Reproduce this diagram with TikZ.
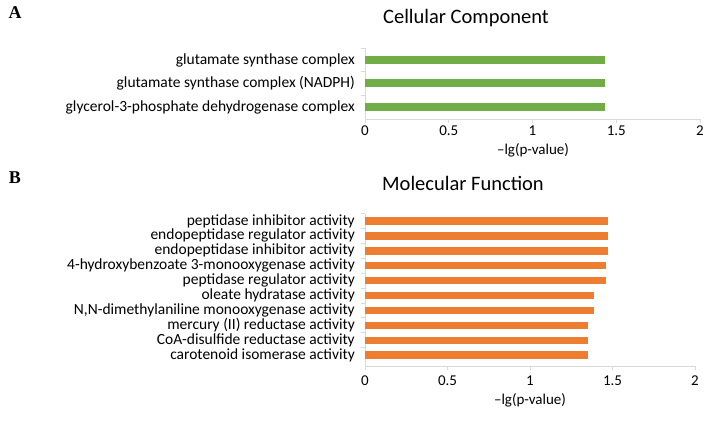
\documentclass[tikz,border=0pt]{standalone}
\usepackage{fontspec}
\setmainfont{Carlito}
\newfontfamily\tnr{Liberation Serif}
\definecolor{gbar}{HTML}{70AD47}
\definecolor{obar}{HTML}{ED7D31}
\definecolor{axc}{HTML}{D9D9D9}
\begin{document}
\begin{tikzpicture}[x=1pt,y=-1pt,
  lab/.style={anchor=east,inner sep=0pt,font=\fontsize{15.5}{15.5}\selectfont},
  tick/.style={anchor=center,inner sep=0pt,font=\fontsize{15}{15}\selectfont},
  ttl/.style={anchor=center,inner sep=0pt,font=\fontsize{20.5}{20.5}\selectfont},
  letter/.style={anchor=center,inner sep=0pt,font=\tnr\bfseries\fontsize{18}{18}\selectfont},
  axisline/.style={draw=axc,line width=0.8pt}]
\useasboundingbox (0,0) rectangle (707,437);
\node[letter] (LA) at (15,13) {A};
\node[letter] (LB) at (15,178) {B};
\node[ttl] (TA) at (466,18) {Cellular Component};
\node[ttl] (TB) at (463,183) {Molecular Function};
% Panel A
\def\ax{365}\def\au{167.5}
\coordinate (a0) at (\ax,48);
\coordinate (a1) at (\ax,119);
\coordinate (a2) at (700,119);
\draw[axisline] (a0) -- (a1) -- (a2);
\foreach \y in {48,71.5,95}{\draw[axisline] (\ax-4,\y) -- (\ax,\y);}
\foreach \v/\t in {0/0,0.5/0.5,1/1,1.5/1.5,2/2}{
  \draw[axisline] (\ax+\v*\au,119) -- (\ax+\v*\au,123);
  \node[tick] (ta\v) at (\ax+\v*\au,131) {\t};}
\node[tick] (xa) at (533,150) {\textendash lg(p-value)};
\foreach \y/\v/\t [count=\i] in {60/1.43/glutamate synthase complex,83/1.43/glutamate synthase complex (NADPH),107/1.43/glycerol-3-phosphate dehydrogenase complex}{
  \fill[gbar] (\ax,\y-4) rectangle (\ax+\v*\au,\y+4);
  \node[lab] (la\i) at (355,\y) {\t};}
% Panel B
\def\bu{165}
\coordinate (b0) at (\ax,214);
\coordinate (b1) at (\ax,366);
\coordinate (b2) at (695,366);
\draw[axisline] (b0) -- (b1) -- (b2);
\foreach \v/\t in {0/0,0.5/0.5,1/1,1.5/1.5,2/2}{
  \draw[axisline] (\ax+\v*\bu,366) -- (\ax+\v*\bu,370);
  \node[tick] (tb\v) at (\ax+\v*\bu,381) {\t};}
\node[tick] (xb) at (530,400) {\textendash lg(p-value)};
\foreach \v/\t [count=\i] in {1.47/peptidase inhibitor activity,1.47/endopeptidase regulator activity,1.47/endopeptidase inhibitor activity,1.46/4-hydroxybenzoate 3-monooxygenase activity,1.46/peptidase regulator activity,1.39/oleate hydratase activity,1.39/{N,N-dimethylaniline monooxygenase activity},1.35/mercury (II) reductase activity,1.35/CoA-disulfide reductase activity,1.35/carotenoid isomerase activity}{
  \pgfmathsetmacro\yy{221+(\i-1)*14.9}
  \fill[obar] (\ax,\yy-3.7) rectangle (\ax+\v*\bu,\yy+3.7);
  \draw[axisline] (\ax-4,\yy-7.45) -- (\ax,\yy-7.45);
  \node[lab] (lb\i) at (355,\yy) {\t};}
\end{tikzpicture}
\end{document}
